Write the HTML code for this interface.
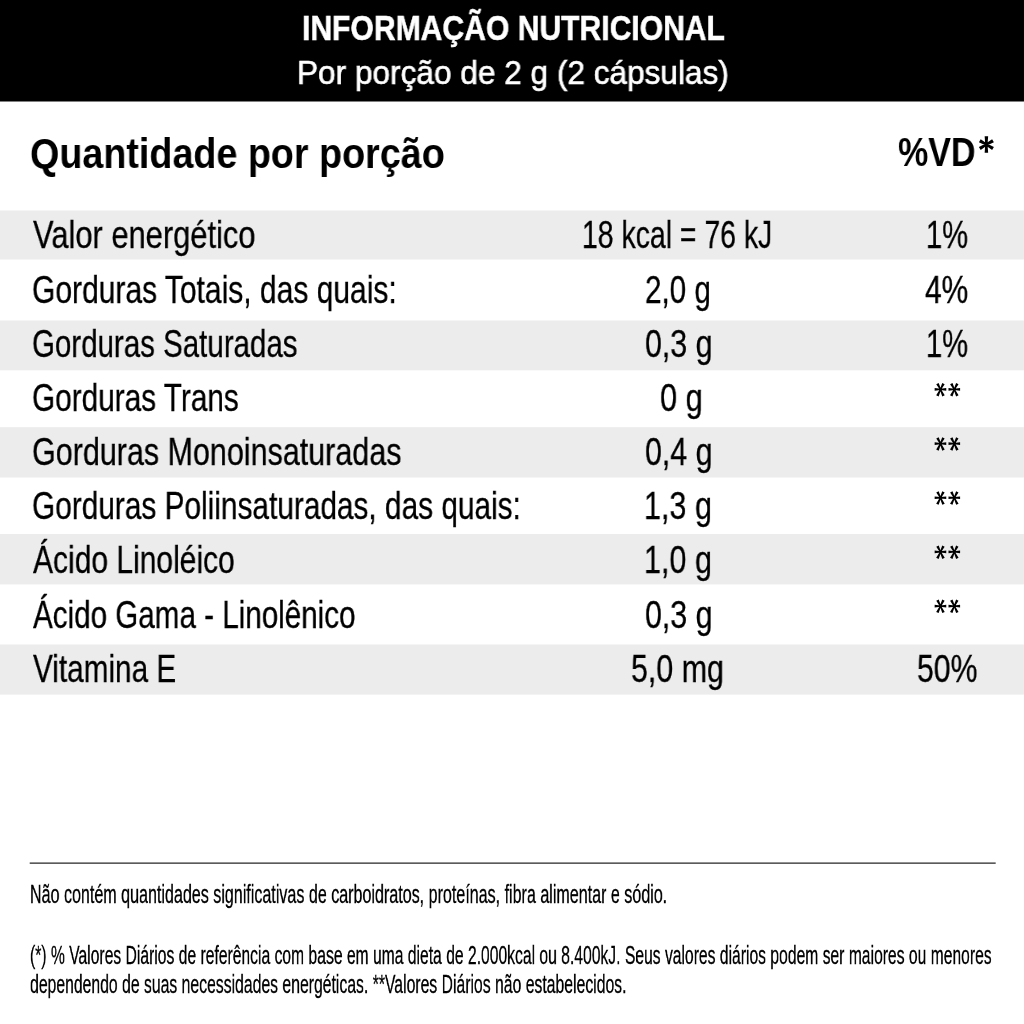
<!DOCTYPE html>
<html><head><meta charset="utf-8"><title>Informação Nutricional</title>
<style>
html,body{margin:0;padding:0;background:#fff}
body{width:1024px;height:1024px;position:relative;overflow:hidden;font-family:"Liberation Sans",sans-serif}
.t{position:absolute;white-space:nowrap;line-height:1;transform-origin:0 0;will-change:transform}
.band{position:absolute;left:0;width:1024px;background:#ececec}
</style></head><body>
<svg style="position:absolute;left:0;top:0" width="1024" height="1024" viewBox="0 0 1024 1024"><rect x="0" y="0" width="1024" height="101.5" fill="#000"/><rect x="0" y="210.5" width="1024" height="49.00" fill="#ececec"/><rect x="0" y="320.5" width="1024" height="49.80" fill="#ececec"/><rect x="0" y="427.2" width="1024" height="50.30" fill="#ececec"/><rect x="0" y="534" width="1024" height="50.40" fill="#ececec"/><rect x="0" y="644.5" width="1024" height="50.10" fill="#ececec"/><rect x="29.7" y="862.4" width="966" height="1.5" fill="#4a4a4a"/></svg>
<div class="t" style="left:302.01px;top:11.00px;font-size:35.6px;font-weight:700;color:#fff;transform:scaleX(0.8459);-webkit-text-stroke:0.5px #fff;">INFORMAÇÃO NUTRICIONAL</div>
<div class="t" style="left:296.69px;top:56.40px;font-size:33.1px;font-weight:400;color:#fff;transform:scaleX(0.9548);-webkit-text-stroke:0.6px #fff;">Por porção de 2 g (2 cápsulas)</div>
<div class="t" style="left:30.20px;top:132.80px;font-size:42.0px;font-weight:700;color:#000;transform:scaleX(0.8976);">Quantidade por porção</div>
<div class="t" style="left:898.15px;top:132.00px;font-size:40.0px;font-weight:700;color:#000;transform:scaleX(0.8506);">%VD</div>
<div class="t" style="left:33.10px;top:217.40px;font-size:37.9px;font-weight:400;color:#000;transform:scaleX(0.8147);-webkit-text-stroke:0.3px #000;">Valor energético</div>
<div class="t" style="left:582.35px;top:217.40px;font-size:37.9px;font-weight:400;color:#000;transform:scaleX(0.7500);-webkit-text-stroke:0.3px #000;">18 kcal = 76 kJ</div>
<div class="t" style="left:926.39px;top:217.40px;font-size:37.9px;font-weight:400;color:#000;transform:scaleX(0.7686);-webkit-text-stroke:0.3px #000;">1%</div>
<div class="t" style="left:32.42px;top:271.56px;font-size:37.9px;font-weight:400;color:#000;transform:scaleX(0.7919);-webkit-text-stroke:0.3px #000;">Gorduras Totais, das quais:</div>
<div class="t" style="left:645.24px;top:271.56px;font-size:37.9px;font-weight:400;color:#000;transform:scaleX(0.7812);-webkit-text-stroke:0.3px #000;">2,0 g</div>
<div class="t" style="left:925.31px;top:271.56px;font-size:37.9px;font-weight:400;color:#000;transform:scaleX(0.7887);-webkit-text-stroke:0.3px #000;">4%</div>
<div class="t" style="left:32.44px;top:325.72px;font-size:37.9px;font-weight:400;color:#000;transform:scaleX(0.7781);-webkit-text-stroke:0.3px #000;">Gorduras Saturadas</div>
<div class="t" style="left:644.50px;top:325.72px;font-size:37.9px;font-weight:400;color:#000;transform:scaleX(0.8012);-webkit-text-stroke:0.3px #000;">0,3 g</div>
<div class="t" style="left:926.39px;top:325.72px;font-size:37.9px;font-weight:400;color:#000;transform:scaleX(0.7686);-webkit-text-stroke:0.3px #000;">1%</div>
<div class="t" style="left:32.43px;top:379.88px;font-size:37.9px;font-weight:400;color:#000;transform:scaleX(0.7854);-webkit-text-stroke:0.3px #000;">Gorduras Trans</div>
<div class="t" style="left:660.39px;top:379.88px;font-size:37.9px;font-weight:400;color:#000;transform:scaleX(0.8122);-webkit-text-stroke:0.3px #000;">0 g</div>
<div class="t" style="left:32.39px;top:434.04px;font-size:37.9px;font-weight:400;color:#000;transform:scaleX(0.8046);-webkit-text-stroke:0.3px #000;">Gorduras Monoinsaturadas</div>
<div class="t" style="left:644.50px;top:434.04px;font-size:37.9px;font-weight:400;color:#000;transform:scaleX(0.8012);-webkit-text-stroke:0.3px #000;">0,4 g</div>
<div class="t" style="left:32.43px;top:488.20px;font-size:37.9px;font-weight:400;color:#000;transform:scaleX(0.7869);-webkit-text-stroke:0.3px #000;">Gorduras Poliinsaturadas, das quais:</div>
<div class="t" style="left:644.08px;top:488.20px;font-size:37.9px;font-weight:400;color:#000;transform:scaleX(0.8063);-webkit-text-stroke:0.3px #000;">1,3 g</div>
<div class="t" style="left:33.10px;top:542.36px;font-size:37.9px;font-weight:400;color:#000;transform:scaleX(0.7917);-webkit-text-stroke:0.3px #000;">Ácido Linoléico</div>
<div class="t" style="left:644.08px;top:542.36px;font-size:37.9px;font-weight:400;color:#000;transform:scaleX(0.8063);-webkit-text-stroke:0.3px #000;">1,0 g</div>
<div class="t" style="left:33.10px;top:596.52px;font-size:37.9px;font-weight:400;color:#000;transform:scaleX(0.7813);-webkit-text-stroke:0.3px #000;">Ácido Gama - Linolênico</div>
<div class="t" style="left:644.50px;top:596.52px;font-size:37.9px;font-weight:400;color:#000;transform:scaleX(0.8012);-webkit-text-stroke:0.3px #000;">0,3 g</div>
<div class="t" style="left:33.10px;top:650.68px;font-size:37.9px;font-weight:400;color:#000;transform:scaleX(0.7845);-webkit-text-stroke:0.3px #000;">Vitamina E</div>
<div class="t" style="left:631.10px;top:650.68px;font-size:37.9px;font-weight:400;color:#000;transform:scaleX(0.8018);-webkit-text-stroke:0.3px #000;">5,0 mg</div>
<div class="t" style="left:917.01px;top:650.68px;font-size:37.9px;font-weight:400;color:#000;transform:scaleX(0.7959);-webkit-text-stroke:0.3px #000;">50%</div>
<div class="t" style="left:29.78px;top:881.00px;font-size:26.4px;font-weight:400;color:#000;transform:scaleX(0.6092);-webkit-text-stroke:0.3px #000;">Não contém quantidades significativas de carboidratos, proteínas, fibra alimentar e sódio.</div>
<div class="t" style="left:30.31px;top:941.60px;font-size:26.4px;font-weight:400;color:#000;transform:scaleX(0.5940);-webkit-text-stroke:0.3px #000;">(*) % Valores Diários de referência com base em uma dieta de 2.000kcal ou 8.400kJ. Seus valores diários podem ser maiores ou menores</div>
<div class="t" style="left:30.30px;top:971.40px;font-size:26.4px;font-weight:400;color:#000;transform:scaleX(0.5973);-webkit-text-stroke:0.3px #000;">dependendo de suas necessidades energéticas. **Valores Diários não estabelecidos.</div>
<svg style="position:absolute;left:0;top:0" width="1024" height="1024" viewBox="0 0 1024 1024"><path fill="#000" d="M940.46,388.80 L934.66,388.10 L934.66,390.80 L940.46,390.10Z M940.46,390.10 L946.26,390.80 L946.26,388.10 L940.46,388.80Z M941.04,389.15 L938.66,382.98 L936.26,384.22 L939.88,389.75Z M941.04,389.75 L944.66,384.22 L942.26,382.98 L939.88,389.15Z M939.87,389.17 L936.19,395.32 L938.63,396.48 L941.05,389.73Z M939.87,389.73 L942.29,396.48 L944.73,395.32 L941.05,389.17Z M954.30,388.80 L948.50,388.10 L948.50,390.80 L954.30,390.10Z M954.30,390.10 L960.10,390.80 L960.10,388.10 L954.30,388.80Z M954.88,389.15 L952.50,382.98 L950.10,384.22 L953.72,389.75Z M954.88,389.75 L958.50,384.22 L956.10,382.98 L953.72,389.15Z M953.71,389.17 L950.03,395.32 L952.47,396.48 L954.89,389.73Z M953.71,389.73 L956.13,396.48 L958.57,395.32 L954.89,389.17Z M940.46,442.96 L934.66,442.26 L934.66,444.96 L940.46,444.26Z M940.46,444.26 L946.26,444.96 L946.26,442.26 L940.46,442.96Z M941.04,443.31 L938.66,437.14 L936.26,438.38 L939.88,443.91Z M941.04,443.91 L944.66,438.38 L942.26,437.14 L939.88,443.31Z M939.87,443.33 L936.19,449.48 L938.63,450.64 L941.05,443.89Z M939.87,443.89 L942.29,450.64 L944.73,449.48 L941.05,443.33Z M954.30,442.96 L948.50,442.26 L948.50,444.96 L954.30,444.26Z M954.30,444.26 L960.10,444.96 L960.10,442.26 L954.30,442.96Z M954.88,443.31 L952.50,437.14 L950.10,438.38 L953.72,443.91Z M954.88,443.91 L958.50,438.38 L956.10,437.14 L953.72,443.31Z M953.71,443.33 L950.03,449.48 L952.47,450.64 L954.89,443.89Z M953.71,443.89 L956.13,450.64 L958.57,449.48 L954.89,443.33Z M940.46,497.12 L934.66,496.42 L934.66,499.12 L940.46,498.42Z M940.46,498.42 L946.26,499.12 L946.26,496.42 L940.46,497.12Z M941.04,497.47 L938.66,491.30 L936.26,492.54 L939.88,498.07Z M941.04,498.07 L944.66,492.54 L942.26,491.30 L939.88,497.47Z M939.87,497.49 L936.19,503.64 L938.63,504.80 L941.05,498.05Z M939.87,498.05 L942.29,504.80 L944.73,503.64 L941.05,497.49Z M954.30,497.12 L948.50,496.42 L948.50,499.12 L954.30,498.42Z M954.30,498.42 L960.10,499.12 L960.10,496.42 L954.30,497.12Z M954.88,497.47 L952.50,491.30 L950.10,492.54 L953.72,498.07Z M954.88,498.07 L958.50,492.54 L956.10,491.30 L953.72,497.47Z M953.71,497.49 L950.03,503.64 L952.47,504.80 L954.89,498.05Z M953.71,498.05 L956.13,504.80 L958.57,503.64 L954.89,497.49Z M940.46,551.28 L934.66,550.58 L934.66,553.28 L940.46,552.58Z M940.46,552.58 L946.26,553.28 L946.26,550.58 L940.46,551.28Z M941.04,551.63 L938.66,545.46 L936.26,546.70 L939.88,552.23Z M941.04,552.23 L944.66,546.70 L942.26,545.46 L939.88,551.63Z M939.87,551.65 L936.19,557.80 L938.63,558.96 L941.05,552.21Z M939.87,552.21 L942.29,558.96 L944.73,557.80 L941.05,551.65Z M954.30,551.28 L948.50,550.58 L948.50,553.28 L954.30,552.58Z M954.30,552.58 L960.10,553.28 L960.10,550.58 L954.30,551.28Z M954.88,551.63 L952.50,545.46 L950.10,546.70 L953.72,552.23Z M954.88,552.23 L958.50,546.70 L956.10,545.46 L953.72,551.63Z M953.71,551.65 L950.03,557.80 L952.47,558.96 L954.89,552.21Z M953.71,552.21 L956.13,558.96 L958.57,557.80 L954.89,551.65Z M940.46,605.44 L934.66,604.74 L934.66,607.44 L940.46,606.74Z M940.46,606.74 L946.26,607.44 L946.26,604.74 L940.46,605.44Z M941.04,605.79 L938.66,599.62 L936.26,600.86 L939.88,606.39Z M941.04,606.39 L944.66,600.86 L942.26,599.62 L939.88,605.79Z M939.87,605.81 L936.19,611.96 L938.63,613.12 L941.05,606.37Z M939.87,606.37 L942.29,613.12 L944.73,611.96 L941.05,605.81Z M954.30,605.44 L948.50,604.74 L948.50,607.44 L954.30,606.74Z M954.30,606.74 L960.10,607.44 L960.10,604.74 L954.30,605.44Z M954.88,605.79 L952.50,599.62 L950.10,600.86 L953.72,606.39Z M954.88,606.39 L958.50,600.86 L956.10,599.62 L953.72,605.79Z M953.71,605.81 L950.03,611.96 L952.47,613.12 L954.89,606.37Z M953.71,606.37 L956.13,613.12 L958.57,611.96 L954.89,605.81Z M987.55,144.55 L988.15,136.25 L984.65,136.25 L985.25,144.55Z M985.25,144.55 L984.65,152.85 L988.15,152.85 L987.55,144.55Z M986.99,143.56 L980.69,139.14 L978.91,142.16 L985.81,145.54Z M986.99,145.54 L993.89,142.16 L992.11,139.14 L985.81,143.56Z M985.81,143.56 L978.91,146.94 L980.69,149.96 L986.99,145.54Z M985.81,145.54 L992.11,149.96 L993.89,146.94 L986.99,143.56Z"/></svg>
</body></html>
